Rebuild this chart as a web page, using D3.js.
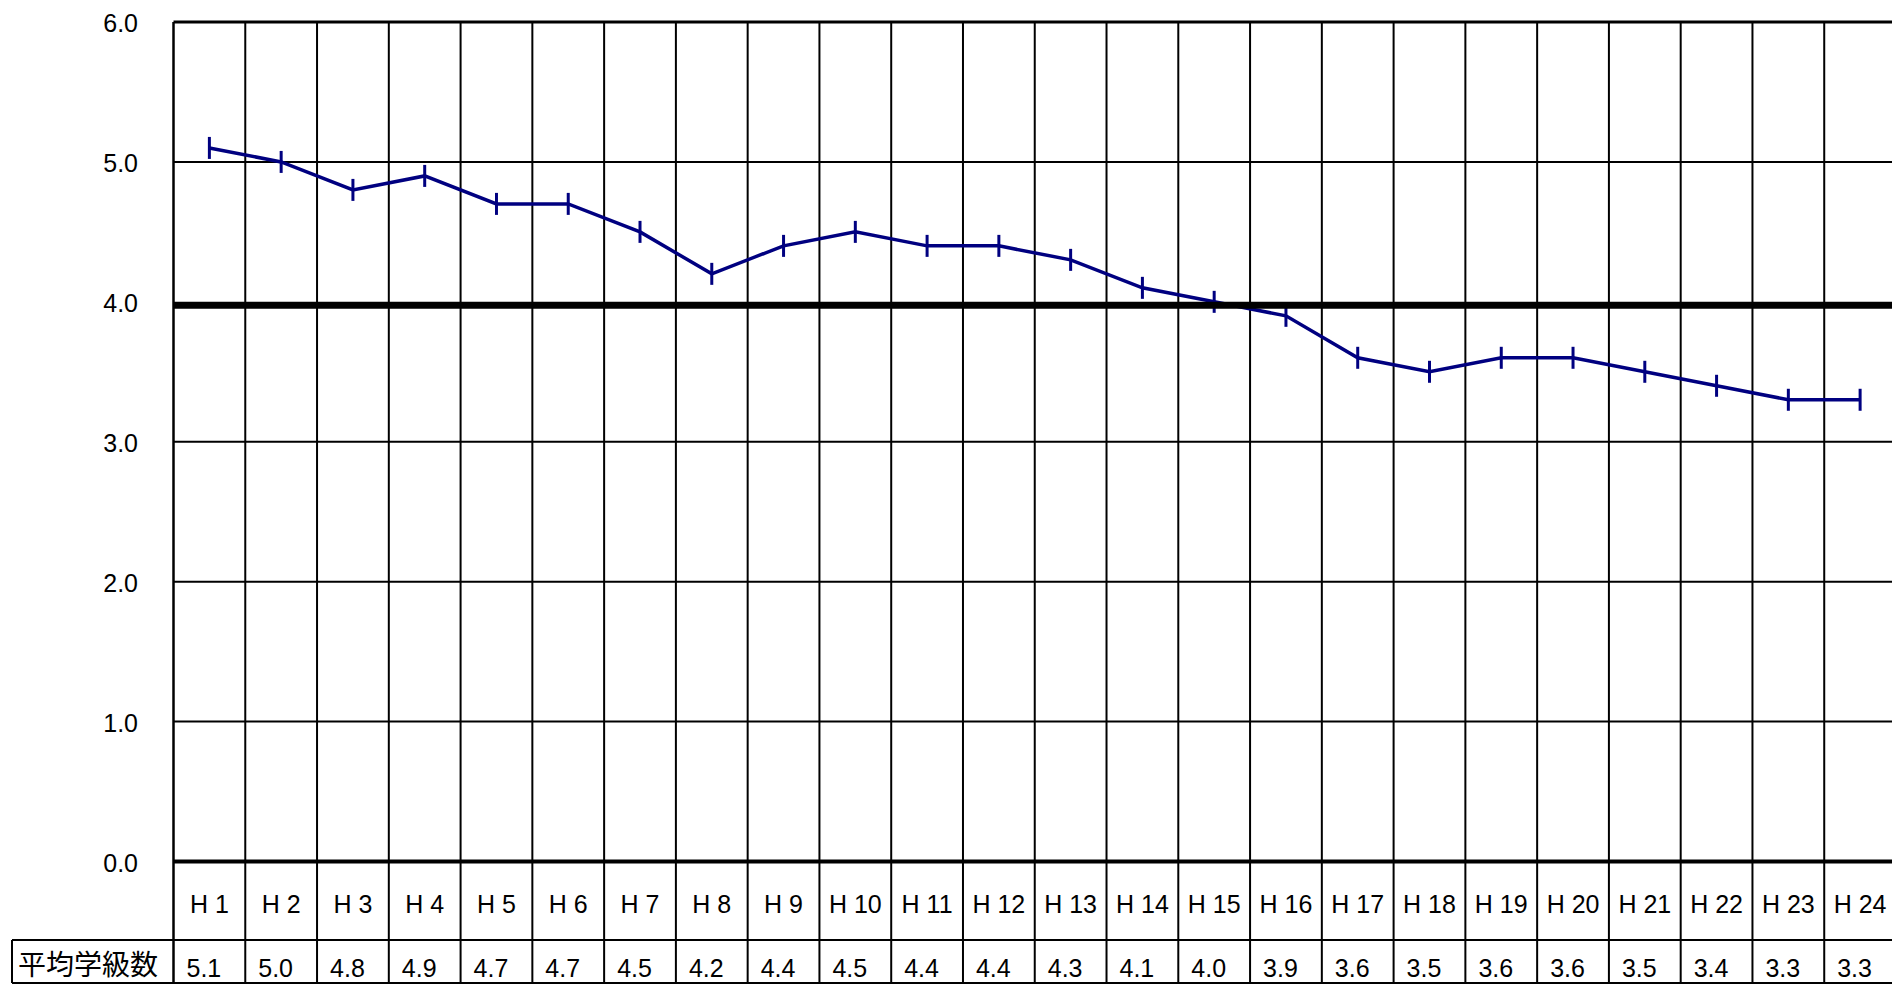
<!DOCTYPE html>
<html><head><meta charset="utf-8">
<script src="https://cdn.jsdelivr.net/npm/d3@7"></script>
<style>body{margin:0;background:#fff}svg{display:block}</style>
</head><body>
<svg id="c" width="1892" height="984"></svg>
<script>
const categories = ["H 1","H 2","H 3","H 4","H 5","H 6","H 7","H 8","H 9","H 10","H 11","H 12","H 13","H 14","H 15","H 16","H 17","H 18","H 19","H 20","H 21","H 22","H 23","H 24"];
const values = [5.1,5.0,4.8,4.9,4.7,4.7,4.5,4.2,4.4,4.5,4.4,4.4,4.3,4.1,4.0,3.9,3.6,3.5,3.6,3.6,3.5,3.4,3.3,3.3];
const yTicks = [0,1,2,3,4,5,6];
const referenceLevel = 4;
const rowLabel = "平均学級数";

const svg = d3.select("#c");
const plotLeft = 173.5, plotRight = 1896, plotTop = 22, plotBottom = 861.5;
const row1 = 940, row2 = 983, tableLeft = 12;
const x = d3.scaleBand().domain(categories).range([plotLeft, plotRight]).paddingInner(0).paddingOuter(0);
const y = d3.scaleLinear().domain([0, 6]).range([plotBottom, plotTop]);
const font = "'Liberation Sans', Arial, sans-serif";

// vertical grid lines (column boundaries) through plot and table
const bounds = categories.map(c => x(c)).concat([plotRight]);
svg.append("g").selectAll("line").data(bounds).join("line")
  .attr("x1", d => d).attr("x2", d => d)
  .attr("y1", plotTop).attr("y2", row2)
  .attr("stroke", "#000").attr("stroke-width", (d, i) => i === 0 ? 2.5 : 2);

// horizontal grid lines
svg.append("g").selectAll("line").data(yTicks.filter(d => d !== referenceLevel)).join("line")
  .attr("x1", plotLeft).attr("x2", 1892)
  .attr("y1", d => y(d)).attr("y2", d => y(d))
  .attr("stroke", "#000")
  .attr("stroke-width", d => d === 0 ? 4 : (d === 6 ? 3 : 2));

// y tick labels
svg.append("g").selectAll("text").data(yTicks).join("text")
  .attr("x", 138).attr("y", d => y(d) + 1)
  .attr("text-anchor", "end").attr("dominant-baseline", "central")
  .attr("font-family", font).attr("font-size", 25).attr("fill", "#000")
  .text(d => d.toFixed(1));

// table lines
svg.append("line").attr("x1", tableLeft).attr("x2", 1892).attr("y1", row1).attr("y2", row1)
  .attr("stroke", "#000").attr("stroke-width", 2);
svg.append("line").attr("x1", tableLeft).attr("x2", 1892).attr("y1", row2).attr("y2", row2)
  .attr("stroke", "#000").attr("stroke-width", 2);
svg.append("line").attr("x1", tableLeft).attr("x2", tableLeft).attr("y1", row1).attr("y2", row2)
  .attr("stroke", "#000").attr("stroke-width", 2);

// category labels
svg.append("g").selectAll("text").data(categories).join("text")
  .attr("x", d => x(d) + x.bandwidth() / 2).attr("y", 913)
  .attr("text-anchor", "middle")
  .attr("font-family", font).attr("font-size", 25).attr("fill", "#000")
  .text(d => d);

// value row
svg.append("g").selectAll("text").data(values).join("text")
  .attr("x", (d, i) => x(categories[i]) + 13).attr("y", 977)
  .attr("font-family", font).attr("font-size", 25).attr("fill", "#000")
  .text(d => d.toFixed(1));

svg.append("text").attr("x", 18).attr("y", 975)
  .attr("font-family", "'Noto Sans CJK JP', sans-serif").attr("font-size", 28).attr("fill", "#000")
  .text(rowLabel);

// line series
const cx = (d, i) => x(categories[i]) + x.bandwidth() / 2;
const line = d3.line().x(cx).y(d => y(d));
svg.append("path").datum(values).attr("d", line)
  .attr("fill", "none").attr("stroke", "#000080").attr("stroke-width", 3.5).attr("stroke-linejoin", "miter");
svg.append("g").selectAll("line").data(values).join("line")
  .attr("x1", cx).attr("x2", cx)
  .attr("y1", d => y(d) - 11).attr("y2", d => y(d) + 11)
  .attr("stroke", "#000080").attr("stroke-width", 3);

// thick reference line at 4.0, drawn over the series
svg.append("line")
  .attr("x1", plotLeft).attr("x2", 1892)
  .attr("y1", y(referenceLevel) + 3.5).attr("y2", y(referenceLevel) + 3.5)
  .attr("stroke", "#000").attr("stroke-width", 7);
</script>
</body></html>
